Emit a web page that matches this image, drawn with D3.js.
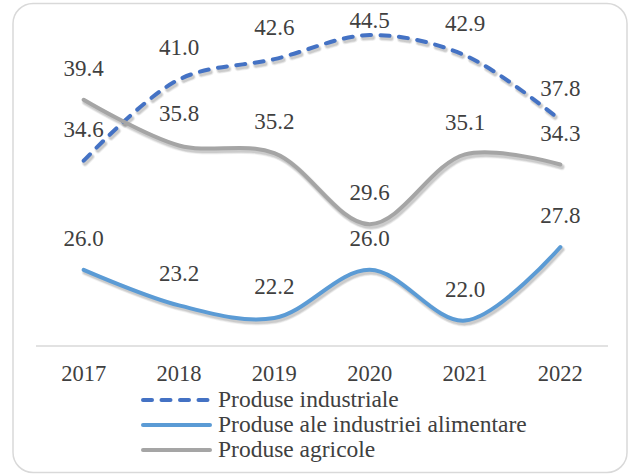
<!DOCTYPE html>
<html><head><meta charset="utf-8">
<script src="https://cdn.jsdelivr.net/npm/d3@7"></script>
</head>
<body style="margin:0">
<svg id="chart" width="628" height="474" style="display:block"></svg>
<script>
const years = ["2017","2018","2019","2020","2021","2022"];
const industriale = [34.6, 41.0, 42.6, 44.5, 42.9, 37.8];
const alimentare = [26.0, 23.2, 22.2, 26.0, 22.0, 27.8];
const agricole = [39.4, 35.8, 35.2, 29.6, 35.1, 34.3];
const seriesNames = ["Produse industriale", "Produse ale industriei alimentare", "Produse agricole"];

const series = [
  {name: seriesNames[0], values: industriale, color: "#4472C4", dash: "9,9.5"},
  {name: seriesNames[1], values: alimentare, color: "#5B9BD5", dash: null},
  {name: seriesNames[2], values: agricole, color: "#A5A5A5", dash: null}
];

const FONT = "Liberation Serif";
const TXT = "#404040";
const plot = {left: 36, right: 608, top: 16, bottom: 346};
const svg = d3.select("#chart");

svg.append("rect").attr("x",13).attr("y",3.5).attr("width",614).attr("height",469)
  .attr("rx",20).attr("ry",20).attr("fill","#fff").attr("stroke","#d9d9d9").attr("stroke-width",1.5);

const x = d3.scalePoint().domain(years).range([plot.left, plot.right]).padding(0.5);
const y = d3.scaleLinear().domain([20, 46]).range([plot.bottom, plot.top]);

const gx = svg.append("g").attr("transform", `translate(0,${plot.bottom})`)
  .call(d3.axisBottom(x).tickSize(0).tickFormat(""));
gx.select(".domain").attr("stroke","#d9d9d9").attr("stroke-width",1.5).attr("d", `M${plot.left},0H${plot.right}`);

function addText(tx, ty, str, size, anchor) {
  svg.append("text").attr("x", tx).attr("y", ty)
    .attr("font-family", FONT).attr("font-size", size).attr("fill", TXT)
    .attr("text-anchor", anchor)
    .text(str);
}
years.forEach(yr => addText(x(yr), plot.bottom + 35, yr, 22.5, "middle"));

const line = d3.line().x((d,i)=>x(years[i])).y(d=>y(d)).curve(d3.curveCatmullRom.alpha(0.5));

series.forEach(s => {
  [[7,0.05],[5.5,0.07],[4,0.09]].forEach(([w,o]) => {
    svg.append("path").datum(s.values).attr("d", line)
      .attr("transform","translate(1.5,2.5)")
      .attr("fill","none").attr("stroke", "#000").attr("stroke-opacity", o).attr("stroke-width", w)
      .attr("stroke-dasharray", s.dash).attr("stroke-linecap", "round");
  });
});
series.forEach(s => {
  svg.append("path").datum(s.values).attr("d", line)
    .attr("fill","none").attr("stroke", s.color).attr("stroke-width", 4)
    .attr("stroke-dasharray", s.dash).attr("stroke-linecap", "round");
});

series.forEach(s => {
  s.values.forEach((v,i) => addText(x(years[i]), Math.max(y(v) - 24, plot.top + 12), v.toFixed(1), 23, "middle"));
});

series.forEach((s,i) => {
  const cy = 400 + i*25;
  svg.append("line").attr("x1",143).attr("x2",210).attr("y1",cy).attr("y2",cy)
    .attr("stroke", s.color).attr("stroke-width",4).attr("stroke-linecap","round")
    .attr("stroke-dasharray", s.dash);
  addText(218, cy + 7, s.name, 23.5, "start");
});
</script>
</body></html>
